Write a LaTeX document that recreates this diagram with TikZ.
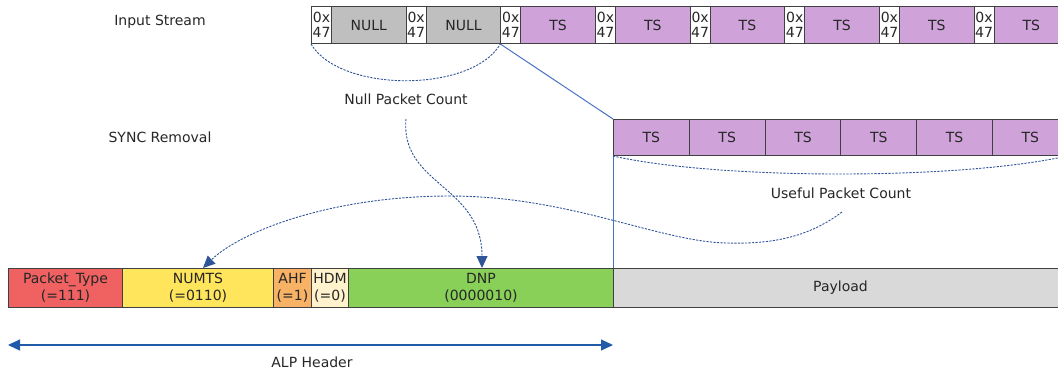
\documentclass[tikz,border=0pt]{standalone}
\usepackage{fontspec}
\setmainfont{DejaVu Sans}
\usetikzlibrary{arrows.meta}
\definecolor{txt}{HTML}{262626}
\definecolor{nullgray}{HTML}{BFBFBF}
\definecolor{tspurple}{HTML}{CFA3D9}
\definecolor{ptred}{HTML}{F06262}
\definecolor{numyellow}{HTML}{FFE55C}
\definecolor{ahforange}{HTML}{F8B265}
\definecolor{hdmcream}{HTML}{FFF2CC}
\definecolor{dnpgreen}{HTML}{88D058}
\definecolor{paygray}{HTML}{D9D9D9}
\definecolor{dashblue}{HTML}{2F5597}
\definecolor{lineblue}{HTML}{4472C4}
\definecolor{arrblue}{HTML}{1F5BA8}
\tikzset{
  cell/.style={draw=black!75, line width=1pt, inner sep=0pt, anchor=north west, align=center, text=txt},
  synccell/.style={cell, fill=white, minimum width=20pt, minimum height=37pt, font=\fontsize{14}{16}\selectfont},
  pktcell/.style={cell, minimum width=74.65pt, minimum height=37pt},
  tscell/.style={cell, fill=tspurple, minimum width=75.8pt, minimum height=36pt},
  hdrcell/.style={cell, minimum height=38.5pt},
  lbl/.style={text=txt, inner sep=0pt},
  countline/.style={draw=dashblue, line width=0.9pt, dash pattern=on 2.2pt off 1.3pt},
  countarrow/.style={countline, -{Triangle[length=12pt,width=11pt,fill=dashblue]}},
}
\begin{document}
\begin{tikzpicture}[x=1pt,y=-1pt,font=\fontsize{14}{17}\selectfont]
\useasboundingbox (0,0) rectangle (1058,373);
\clip (0,0) rectangle (1058,373);
% labels
\node[lbl] (instream) at (160,22) {Input Stream};
\node[lbl] (syncrem) at (160,137) {SYNC Removal};
% input stream
\foreach \i in {0,...,7} {
  \pgfmathsetmacro{\hx}{311+94.65*\i}
  \pgfmathsetmacro{\dx}{331+94.65*\i}
  \ifnum\i<2
    \node[pktcell, fill=nullgray] (d\i) at (\dx,6) {NULL};
  \else
    \node[pktcell, fill=tspurple] (d\i) at (\dx,6) {TS};
  \fi
  \node[synccell] (h\i) at (\hx,6) {0x\\[-1pt]47};
}
% sync removal row
\foreach \i in {0,...,5} {
  \pgfmathsetmacro{\sx}{613+75.8*\i}
  \node[tscell] (s\i) at (\sx,119) {TS};
}
% bottom header row
\node[hdrcell, fill=ptred, minimum width=114pt] (ptype) at (8,268) {Packet\_Type\\(=111)};
\node[hdrcell, fill=numyellow, minimum width=151pt] (numts) at (122,268) {NUMTS\\(=0110)};
\node[hdrcell, fill=ahforange, minimum width=38pt] (ahf) at (273,268) {AHF\\(=1)};
\node[hdrcell, fill=hdmcream, minimum width=37pt] (hdm) at (311,268) {HDM\\(=0)};
\node[hdrcell, fill=dnpgreen, minimum width=265pt] (dnp) at (348,268) {DNP\\(0000010)};
\node[hdrcell, fill=paygray, minimum width=454pt] (payload) at (613,268) {Payload};
% blue solid lines
\draw[lineblue, line width=1pt] (h2.south west) -- (s0.north west);
\draw[lineblue, line width=1pt] (s0.south west) -- (payload.north west);
% count labels
\node[lbl] (npc) at (406,99) {Null Packet Count};
\node[lbl] (upc) at (841,193) {Useful Packet Count};
% null arc
\draw[countline] (h0.south west) .. controls (340,93) and (472,93) .. (h2.south west);
% useful arc
\coordinate (uend) at (1067,156);
\draw[countline] (s0.south west) .. controls (720,180) and (960,180) .. (uend);
% null count arrow to DNP
\coordinate (nstart) at (406,119);
\coordinate (dnptop) at (482,268);
\draw[countarrow] (nstart) .. controls (400,185) and (482,185) .. (dnptop);
% useful count arrow to NUMTS
\coordinate (ustart) at (842,212);
\coordinate (ulow) at (727,243);
\coordinate (upeak) at (450,196);
\coordinate (numtop) at (203,268);
\draw[countline] (ustart) .. controls (805,240) and (765,244) .. (ulow)
   .. controls (660,242) and (570,196) .. (upeak);
\draw[countarrow] (upeak) .. controls (330,196) and (240,232) .. (numtop);
% ALP header arrow
\coordinate (alpl) at (8,345);
\coordinate (alpr) at (613,345);
\draw[arrblue, line width=1.3pt, {Triangle[length=12pt,width=11pt]}-{Triangle[length=12pt,width=11pt]}] (alpl) -- (alpr);
\node[lbl] (alp) at (312,362) {ALP Header};
\end{tikzpicture}
\end{document}
